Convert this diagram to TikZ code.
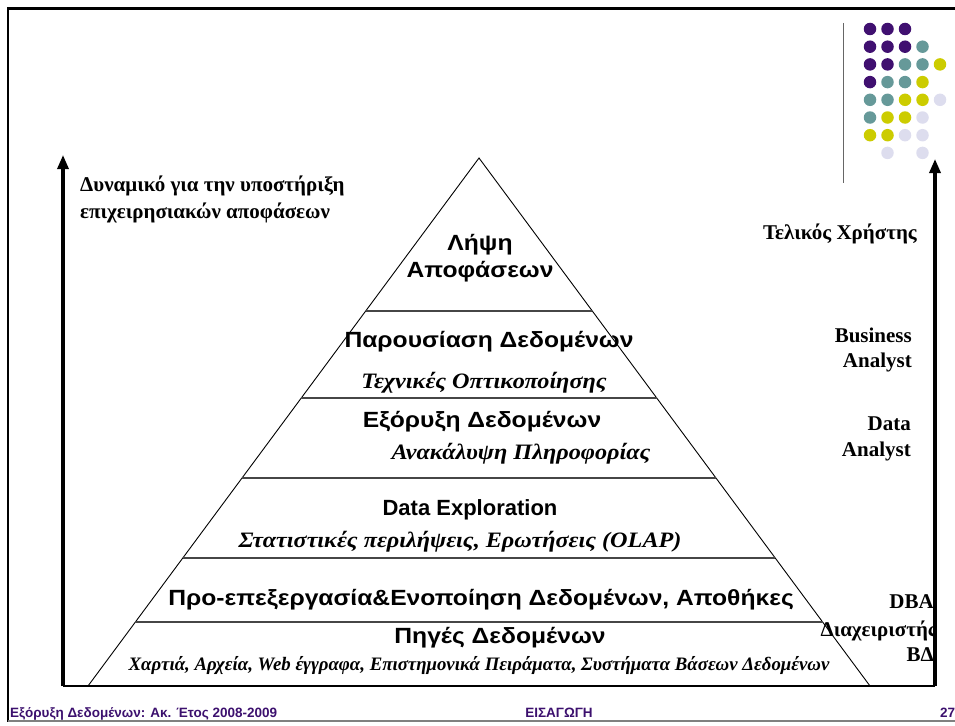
\documentclass[tikz,border=0pt]{standalone}
\usepackage{fontspec}
\setmainfont{Liberation Serif}
\newfontfamily\arialfont{Liberation Sans}
\usetikzlibrary{calc,arrows.meta}

\definecolor{dotpurple}{RGB}{64,16,112}
\definecolor{dotteal}{RGB}{102,153,153}
\definecolor{dotyellow}{RGB}{204,204,0}
\definecolor{dotlilac}{RGB}{221,221,238}
\definecolor{footpurple}{RGB}{60,16,110}
\definecolor{rulegray}{RGB}{70,70,70}

% wide set for layer headings and notes
\newcommand{\widetitle}[1]{\scalebox{1.12}[1]{#1}}
\newcommand{\widenote}[1]{\scalebox{1.1}[1]{#1}}

\tikzset{
  layertitle/.style={anchor=base, inner sep=0pt, font=\arialfont\bfseries\fontsize{22}{25}\selectfont},
  layernote/.style={anchor=base, inner sep=0pt, font=\bfseries\itshape\fontsize{22}{25}\selectfont},
  rolelabel/.style={anchor=base east, inner sep=0pt, font=\bfseries\fontsize{21}{24}\selectfont},
  sidelabel/.style={anchor=base west, inner sep=0pt, font=\bfseries\fontsize{21}{24}\selectfont},
  footer/.style={anchor=base, inner sep=0pt, text=footpurple, font=\arialfont\bfseries\fontsize{13.5}{15}\selectfont},
  axis/.style={line width=3.2pt, -{Triangle[length=14pt,width=11pt]}},
  edge/.style={line width=0.9pt},
  sep/.style={line width=1.4pt, draw=rulegray},
  dot/.style={circle, inner sep=0pt, minimum size=12.5pt}
}

\begin{document}
\begin{tikzpicture}[x=1pt,y=-1pt]
\useasboundingbox (0,0) rectangle (955,725);

% slide frame
\draw[line width=3pt] (7,9) -- (960,9);
\draw[line width=2.2pt] (8,8) -- (8,722);
\draw[line width=1.6pt, draw=gray] (8,721) -- (960,721);

% decoration: rule and dot matrix
\draw[line width=1pt, draw=gray!80!black] (843,23) -- (843,183);
\foreach \c/\r/\col [count=\i] in {
  1/1/dotpurple,2/1/dotpurple,3/1/dotpurple,
  1/2/dotpurple,2/2/dotpurple,3/2/dotpurple,4/2/dotteal,
  1/3/dotpurple,2/3/dotpurple,3/3/dotteal,4/3/dotteal,5/3/dotyellow,
  1/4/dotpurple,2/4/dotteal,3/4/dotteal,4/4/dotyellow,
  1/5/dotteal,2/5/dotteal,3/5/dotyellow,4/5/dotyellow,5/5/dotlilac,
  1/6/dotteal,2/6/dotyellow,3/6/dotyellow,4/6/dotlilac,
  1/7/dotyellow,2/7/dotyellow,3/7/dotlilac,4/7/dotlilac,
  2/8/dotlilac,4/8/dotlilac}
  \node[dot, fill=\col] (dot\i) at ({870+17.5*(\c-1)},{29+17.7*(\r-1)}) {};

% pyramid outline
\coordinate (apex) at (479,158);
\coordinate (bl) at (88,686);
\coordinate (br) at (870,686);
\draw[edge] (bl) -- (apex) -- (br);

% layer separators
\foreach \t [count=\k] in {0.2898,0.4545,0.6061,0.7576,0.8788}
  \draw[sep] ($(apex)!\t!(bl)$) -- ($(apex)!\t!(br)$);

% vertical axes with common base line
\coordinate (lbase) at (63,686);
\coordinate (rbase) at (935,686);
\coordinate (ltip) at (63,155);
\coordinate (rtip) at (935,159);
\draw[line width=2pt] (lbase) -- (rbase);
\draw[axis] (lbase) -- (ltip);
\draw[axis] (rbase) -- (rtip);

% axis captions
\node[sidelabel] (pot1) at (80,191) {Δυναμικό για την υποστήριξη};
\node[sidelabel] (pot2) at (80,218) {επιχειρησιακών αποφάσεων};

% user roles
\node[rolelabel] (enduser) at (917,239) {Τελικός Χρήστης};
\node[rolelabel] (ba1) at (912,342) {Business};
\node[rolelabel] (ba2) at (912,367) {Analyst};
\node[rolelabel] (da1) at (911,430) {Data};
\node[rolelabel] (da2) at (911,456) {Analyst};
\node[rolelabel] (dba1) at (934,608) {DBA};
\node[rolelabel] (dba2) at (937,636) {Διαχειριστής};
\node[rolelabel] (dba3) at (934,661) {ΒΔ};

% pyramid layers
\node[layertitle] (l1a) at (480,250) {\widetitle{Λήψη}};
\node[layertitle] (l1b) at (480,277) {\widetitle{Αποφάσεων}};
\node[layertitle] (l2) at (489,347) {\widetitle{Παρουσίαση Δεδομένων}};
\node[layernote] (l2n) at (484,388) {\widenote{Τεχνικές Οπτικοποίησης}};
\node[layertitle] (l3) at (482,427) {\widetitle{Εξόρυξη Δεδομένων}};
\node[layernote] (l3n) at (521,459) {\widenote{Ανακάλυψη Πληροφορίας}};
\node[layertitle] (l4) at (470,515) {Data Exploration};
\node[layernote] (l4n) at (460,547) {\widenote{Στατιστικές περιλήψεις, Ερωτήσεις (OLAP)}};
\node[layertitle] (l5) at (481,605) {\widetitle{Προ-επεξεργασία\&Ενοποίηση Δεδομένων, Αποθήκες}};
\node[layertitle] (l6) at (500,643) {\widetitle{Πηγές Δεδομένων}};
\node[layernote, font=\bfseries\itshape\fontsize{19}{22}\selectfont] (l6n) at (479,670)
  {\scalebox{0.99}[1]{Χαρτιά, Αρχεία, Web έγγραφα, Επιστημονικά Πειράματα, Συστήματα Βάσεων Δεδομένων}};

% footer
\node[footer, anchor=base west] (ftl) at (10,717) {Εξόρυξη Δεδομένων: Ακ. Έτος 2008-2009};
\node[footer] (ftc) at (559,717) {ΕΙΣΑΓΩΓΗ};
\node[footer, anchor=base west] (ftr) at (940,717) {27};
\end{tikzpicture}
\end{document}
